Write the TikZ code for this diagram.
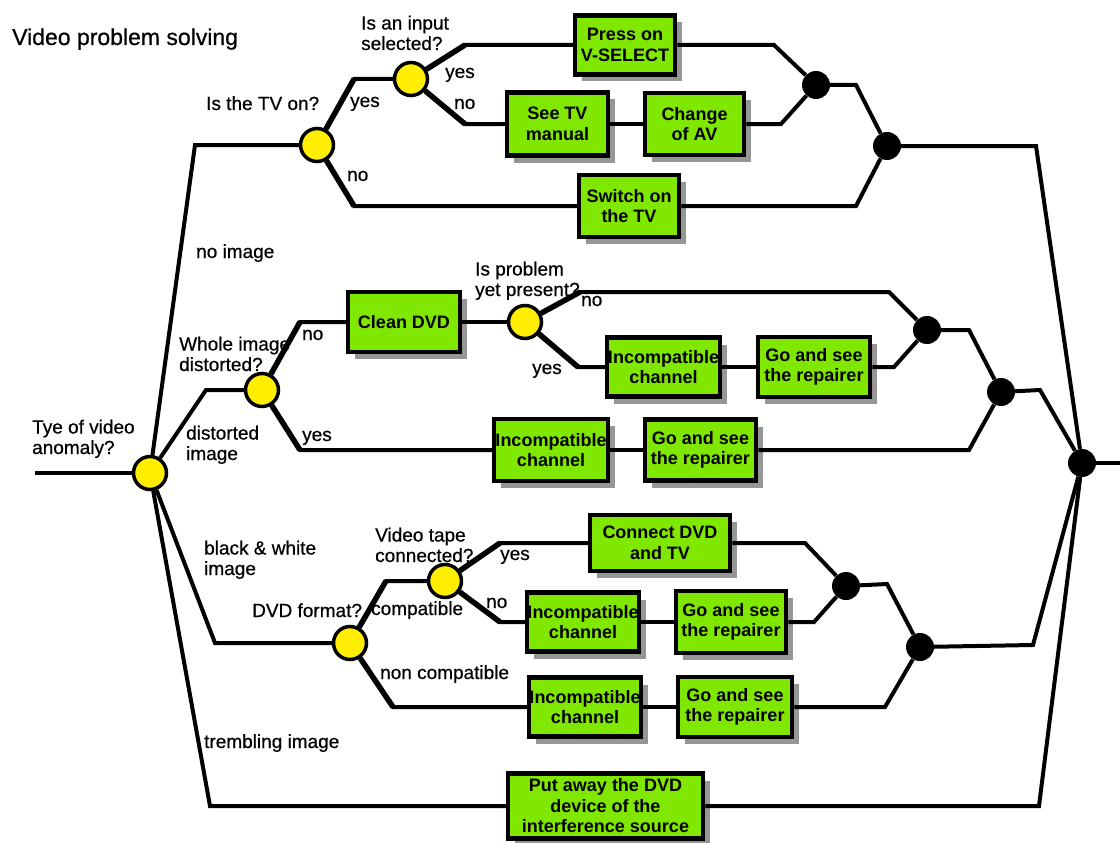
\documentclass[tikz,border=0pt]{standalone}
\usepackage{fontspec}
\setmainfont{Liberation Sans}
\newfontfamily\labelfamily[FakeBold=0.6]{Liberation Sans}
\usetikzlibrary{shadows}
\definecolor{decisionfill}{RGB}{255,238,0}
\definecolor{actionfill}{RGB}{128,232,0}
\definecolor{shade}{RGB}{150,150,150}
\newcommand{\lblfont}{\labelfamily\fontsize{19}{20.5}\selectfont}
\newcommand{\boxfont}{\fontsize{18}{20.5}\selectfont\bfseries}
\begin{document}
\begin{tikzpicture}[x=1pt,y=-1pt,
  wire/.style={line width=4pt},
  fork/.style={line width=5.5pt},
  decision/.style={circle,draw,line width=3.5pt,fill=decisionfill,minimum size=33pt,inner sep=0pt},
  junction/.style={circle,fill=black,minimum size=28pt,inner sep=0pt},
  action/.style={draw,line width=4.5pt,fill=actionfill,inner sep=0pt,align=center,font=\boxfont,
    general shadow={fill=shade,shadow xshift=7pt,shadow yshift=-7pt}},
  lbl/.style={inner sep=0pt,anchor=base west,align=left,font=\lblfont}]
\useasboundingbox (0,0) rectangle (1120,843);

% title
\node[lbl,font=\labelfamily\fontsize{23}{26}\selectfont] (title) at (12,45) {Video problem solving};

% decision points
\node[decision] (root)   at (150,473) {};
\node[decision] (tvon)   at (317,145) {};
\node[decision] (input)  at (411,79)  {};
\node[decision] (whole)  at (262,390) {};
\node[decision] (prob)   at (525,322) {};
\node[decision] (dvdfmt) at (350,643) {};
\node[decision] (tape)   at (445,581) {};

% merging points
\node[junction] (jtop)  at (816,85)  {};
\node[junction] (jtv)   at (887,146) {};
\node[junction] (jprob) at (927,330) {};
\node[junction] (jdist) at (1001,392) {};
\node[junction] (jtape) at (846,586) {};
\node[junction] (jbw)   at (920,647) {};
\node[junction] (jend)  at (1082,463) {};

% actions
\node[action,minimum width=100pt,minimum height=59pt] (press)  at (625,45)    {Press on\\V-SELECT};
\node[action,minimum width=101pt,minimum height=63pt] (seetv)  at (557.5,124) {See TV\\manual};
\node[action,minimum width=99pt, minimum height=62pt] (change) at (694.5,124) {Change\\of AV};
\node[action,minimum width=100pt,minimum height=62pt] (switch) at (629,206)   {Switch on\\the TV};
\node[action,minimum width=112pt,minimum height=60pt] (clean)  at (404,322)   {Clean DVD};
\node[action,minimum width=113pt,minimum height=59pt] (inca)   at (663.5,367) {Incompatible\\channel};
\node[action,minimum width=112pt,minimum height=60pt] (goa)    at (814,367)   {Go and see\\the repairer};
\node[action,minimum width=114pt,minimum height=62pt] (incb)   at (551,450)   {Incompatible\\channel};
\node[action,minimum width=111pt,minimum height=61pt] (gob)    at (700.5,450) {Go and see\\the repairer};
\node[action,minimum width=140pt,minimum height=56pt] (connect) at (660,543)  {Connect DVD\\and TV};
\node[action,minimum width=112pt,minimum height=59pt] (incc)   at (583,622)   {Incompatible\\channel};
\node[action,minimum width=110pt,minimum height=62pt] (goc)    at (731,622)   {Go and see\\the repairer};
\node[action,minimum width=112pt,minimum height=59pt] (incd)   at (585,707)   {Incompatible\\channel};
\node[action,minimum width=114pt,minimum height=60pt] (god)    at (735,707)   {Go and see\\the repairer};
\node[action,minimum width=195pt,minimum height=65pt] (putaway) at (605.5,806) {Put away the DVD\\device of the\\interference source};

% bends of the connectors
\coordinate (start) at (35,473);
\coordinate (finish) at (1120,463);
\coordinate (rootno) at (195,145);
\coordinate (rootdist) at (206,390);
\coordinate (rootbw) at (215,643);
\coordinate (roottr) at (210,806);
\coordinate (tvup) at (354,79);
\coordinate (tvdn) at (354,206);
\coordinate (inup) at (465,45);
\coordinate (indn) at (465,124);
\coordinate (pressout) at (774,45);
\coordinate (changeout) at (781,124);
\coordinate (switchout) at (856,206);
\coordinate (jtopout) at (856,85);
\coordinate (jtvout) at (1036,146);
\coordinate (whno) at (300,322);
\coordinate (whyes) at (300,450);
\coordinate (probno) at (580,292);
\coordinate (probnoend) at (889,292);
\coordinate (probyes) at (578,367);
\coordinate (goaout) at (894,367);
\coordinate (jprobout) at (969,330);
\coordinate (gobout) at (969,450);
\coordinate (jdistout) at (1040,390);
\coordinate (dvdup) at (386,581);
\coordinate (dvddn) at (393,707);
\coordinate (tapeup) at (500,543);
\coordinate (tapedn) at (500,622);
\coordinate (connout) at (805,543);
\coordinate (gocout) at (814,622);
\coordinate (jtapeout) at (887,584);
\coordinate (godout) at (885,707);
\coordinate (jbwout) at (1033,645);
\coordinate (putout) at (1039,806);

% connectors
\draw[wire] (start) -- (root);
\draw[wire] (jend) -- (finish);
% no image
\draw[wire] (root) -- (rootno) -- (tvon);
\draw[wire] (tvon) -- (tvup) -- (input);
\draw[fork] (tvon) -- (tvup);
\draw[wire] (tvon) -- (tvdn) -- (switch);
\draw[fork] (tvon) -- (tvdn);
\draw[wire] (switch) -- (switchout) -- (jtv);
\draw[wire] (input) -- (inup) -- (press);
\draw[fork] (input) -- (inup);
\draw[wire] (press) -- (pressout) -- (jtop);
\draw[wire] (input) -- (indn) -- (seetv);
\draw[fork] (input) -- (indn);
\draw[wire] (seetv) -- (change);
\draw[wire] (change) -- (changeout) -- (jtop);
\draw[wire] (jtop) -- (jtopout) -- (jtv);
\draw[wire] (jtv) -- (jtvout) -- (jend);
% distorted image
\draw[wire] (root) -- (rootdist) -- (whole);
\draw[wire] (whole) -- (whno) -- (clean);
\draw[fork] (whole) -- (whno);
\draw[wire] (clean) -- (prob);
\draw[wire] (prob) -- (probno) -- (probnoend) -- (jprob);
\draw[fork] (prob) -- (probno);
\draw[wire] (prob) -- (probyes) -- (inca);
\draw[fork] (prob) -- (probyes);
\draw[wire] (inca) -- (goa);
\draw[wire] (goa) -- (goaout) -- (jprob);
\draw[wire] (jprob) -- (jprobout) -- (jdist);
\draw[wire] (whole) -- (whyes) -- (incb);
\draw[fork] (whole) -- (whyes);
\draw[wire] (incb) -- (gob);
\draw[wire] (gob) -- (gobout) -- (jdist);
\draw[wire] (jdist) -- (jdistout) -- (jend);
% black & white image
\draw[wire] (root) -- (rootbw) -- (dvdfmt);
\draw[wire] (dvdfmt) -- (dvdup) -- (tape);
\draw[fork] (dvdfmt) -- (dvdup);
\draw[wire] (tape) -- (tapeup) -- (connect);
\draw[fork] (tape) -- (tapeup);
\draw[wire] (connect) -- (connout) -- (jtape);
\draw[wire] (tape) -- (tapedn) -- (incc);
\draw[fork] (tape) -- (tapedn);
\draw[wire] (incc) -- (goc);
\draw[wire] (goc) -- (gocout) -- (jtape);
\draw[wire] (jtape) -- (jtapeout) -- (jbw);
\draw[wire] (dvdfmt) -- (dvddn) -- (incd);
\draw[fork] (dvdfmt) -- (dvddn);
\draw[wire] (incd) -- (god);
\draw[wire] (god) -- (godout) -- (jbw);
\draw[wire] (jbw) -- (jbwout) -- (jend);
% trembling image
\draw[wire] (root) -- (roottr) -- (putaway);
\draw[wire] (putaway) -- (putout) -- (jend);

% labels (base anchor sits on the last line)
\node[lbl] (l1)  at (32,454)  {Tye of video\\anomaly?};
\node[lbl] (l2)  at (196,258) {no image};
\node[lbl] (l3)  at (206,110) {Is the TV on?};
\node[lbl] (l4)  at (350,107) {yes};
\node[lbl] (l5)  at (347,181) {no};
\node[lbl] (l6)  at (361,50)  {Is an input\\selected?};
\node[lbl] (l7)  at (445,78)  {yes};
\node[lbl] (l8)  at (454,109) {no};
\node[lbl] (l9)  at (179,371) {Whole image\\distorted?};
\node[lbl] (l10) at (302,340) {no};
\node[lbl] (l11) at (302,441) {yes};
\node[lbl] (l12) at (186,460) {distorted\\image};
\node[lbl] (l13) at (475,296) {Is problem\\yet present?};
\node[lbl] (l14) at (581,306) {no};
\node[lbl] (l15) at (532,374) {yes};
\node[lbl] (l16) at (204,575) {black \& white\\image};
\node[lbl] (l17) at (252,617) {DVD format?};
\node[lbl] (l18) at (375,562) {Video tape\\connected?};
\node[lbl] (l19) at (500,560) {yes};
\node[lbl] (l20) at (486,608) {no};
\node[lbl] (l21) at (371,615) {compatible};
\node[lbl] (l22) at (380,679) {non compatible};
\node[lbl] (l23) at (204,748) {trembling image};
\end{tikzpicture}
\end{document}
